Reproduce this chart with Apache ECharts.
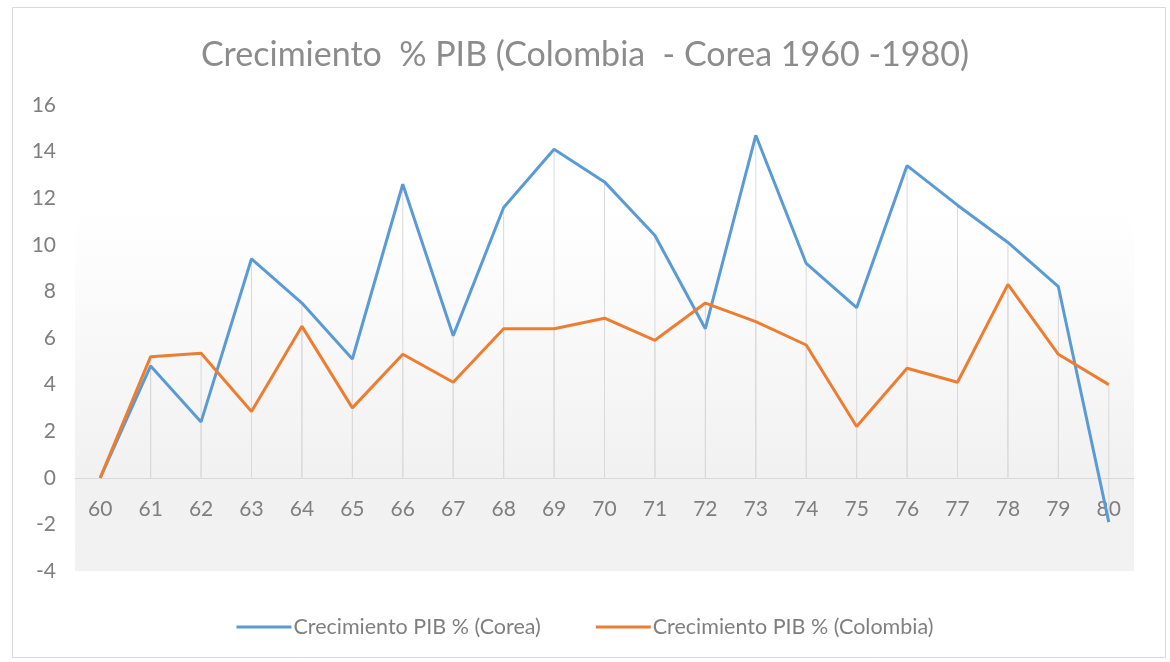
<!DOCTYPE html>
<html>
<head>
<meta charset="utf-8">
<script src="https://cdn.jsdelivr.net/npm/echarts@6/dist/echarts.min.js"></script>
<style>
html,body{margin:0;padding:0;background:#fff;}
#chart{width:1170px;height:662px;}
</style>
</head>
<body>
<div id="chart"></div>
<script>
const titleText = 'Crecimiento  % PIB (Colombia  - Corea 1960 -1980)';
const years = ['60','61','62','63','64','65','66','67','68','69','70','71','72','73','74','75','76','77','78','79','80'];
const coreaName = 'Crecimiento PIB % (Corea)';
const colombiaName = 'Crecimiento PIB % (Colombia)';
const corea = [0, 4.8, 2.4, 9.4, 7.5, 5.1, 12.6, 6.1, 11.6, 14.1, 12.7, 10.4, 6.4, 14.7, 9.2, 7.3, 13.4, 11.7, 10.1, 8.2, -1.9];
const colombia = [0, 5.2, 5.35, 2.85, 6.5, 3.0, 5.3, 4.1, 6.4, 6.4, 6.85, 5.9, 7.5, 6.7, 5.7, 2.2, 4.7, 4.1, 8.3, 5.3, 4.0];
const yTicks = {min: -4, max: 16, interval: 2};

const FONT = 'Lato';
const GRID_TOP = 105, GRID_BOTTOM = 91, H = 662;
const plotH = H - GRID_TOP - GRID_BOTTOM;
// move the category axis up so it sits on the value 0 line
const zeroOffset = -plotH * (0 - yTicks.min) / (yTicks.max - yTicks.min);

const chart = echarts.init(document.getElementById('chart'), null, {renderer: 'canvas'});
chart.setOption({
  backgroundColor: '#ffffff',
  animation: false,
  textStyle: {fontFamily: FONT},
  graphic: [{
    type: 'rect', left: 10, top: 5, shape: {width: 1153, height: 650},
    style: {fill: 'none', stroke: '#d9d9d9', lineWidth: 1}, silent: true, z: -1
  }],
  title: {
    text: titleText, left: 'center', top: 33,
    textStyle: {fontFamily: FONT, fontSize: 34, fontWeight: 'normal', color: '#8c8c8c'}
  },
  legend: {
    data: [coreaName, colombiaName],
    bottom: 19, left: 'center', itemWidth: 55, itemHeight: 3, itemGap: 55,
    icon: 'rect',
    textStyle: {fontFamily: FONT, fontSize: 21.5, color: '#7f7f7f', padding: [0, 0, 0, -3]}
  },
  grid: {
    left: 75, right: 36, top: GRID_TOP, bottom: GRID_BOTTOM, show: true, borderWidth: 0,
    backgroundColor: new echarts.graphic.LinearGradient(0, 0, 0, 1, [
      {offset: 0, color: '#ffffff'},
      {offset: 0.23, color: '#ffffff'},
      {offset: 0.8, color: '#f1f1f1'},
      {offset: 1, color: '#f2f2f2'}
    ])
  },
  xAxis: {
    type: 'category', data: years, boundaryGap: true,
    offset: zeroOffset,
    axisLine: {onZero: false, lineStyle: {color: '#d9d9d9', width: 1}},
    axisTick: {show: false},
    splitLine: {show: false},
    axisLabel: {color: '#7f7f7f', fontSize: 21, margin: 21, fontFamily: FONT}
  },
  yAxis: {
    type: 'value', min: yTicks.min, max: yTicks.max, interval: yTicks.interval,
    axisLine: {show: false}, axisTick: {show: false}, splitLine: {show: false},
    axisLabel: {color: '#7f7f7f', fontSize: 21, margin: 19, fontFamily: FONT}
  },
  series: [
    {type: 'bar', name: 'drop1', data: corea, barWidth: 1, barGap: '-100%', silent: true,
     itemStyle: {color: '#d9d9d9'}, z: 1},
    {type: 'bar', name: 'drop2', data: colombia, barWidth: 1, barGap: '-100%', silent: true,
     itemStyle: {color: '#d9d9d9'}, z: 1},
    {type: 'line', name: coreaName, data: corea, symbol: 'none',
     lineStyle: {color: '#5b9bd5', width: 3}, itemStyle: {color: '#5b9bd5'}, z: 3},
    {type: 'line', name: colombiaName, data: colombia, symbol: 'none',
     lineStyle: {color: '#ed7d31', width: 3}, itemStyle: {color: '#ed7d31'}, z: 4}
  ]
});
</script>
</body>
</html>
